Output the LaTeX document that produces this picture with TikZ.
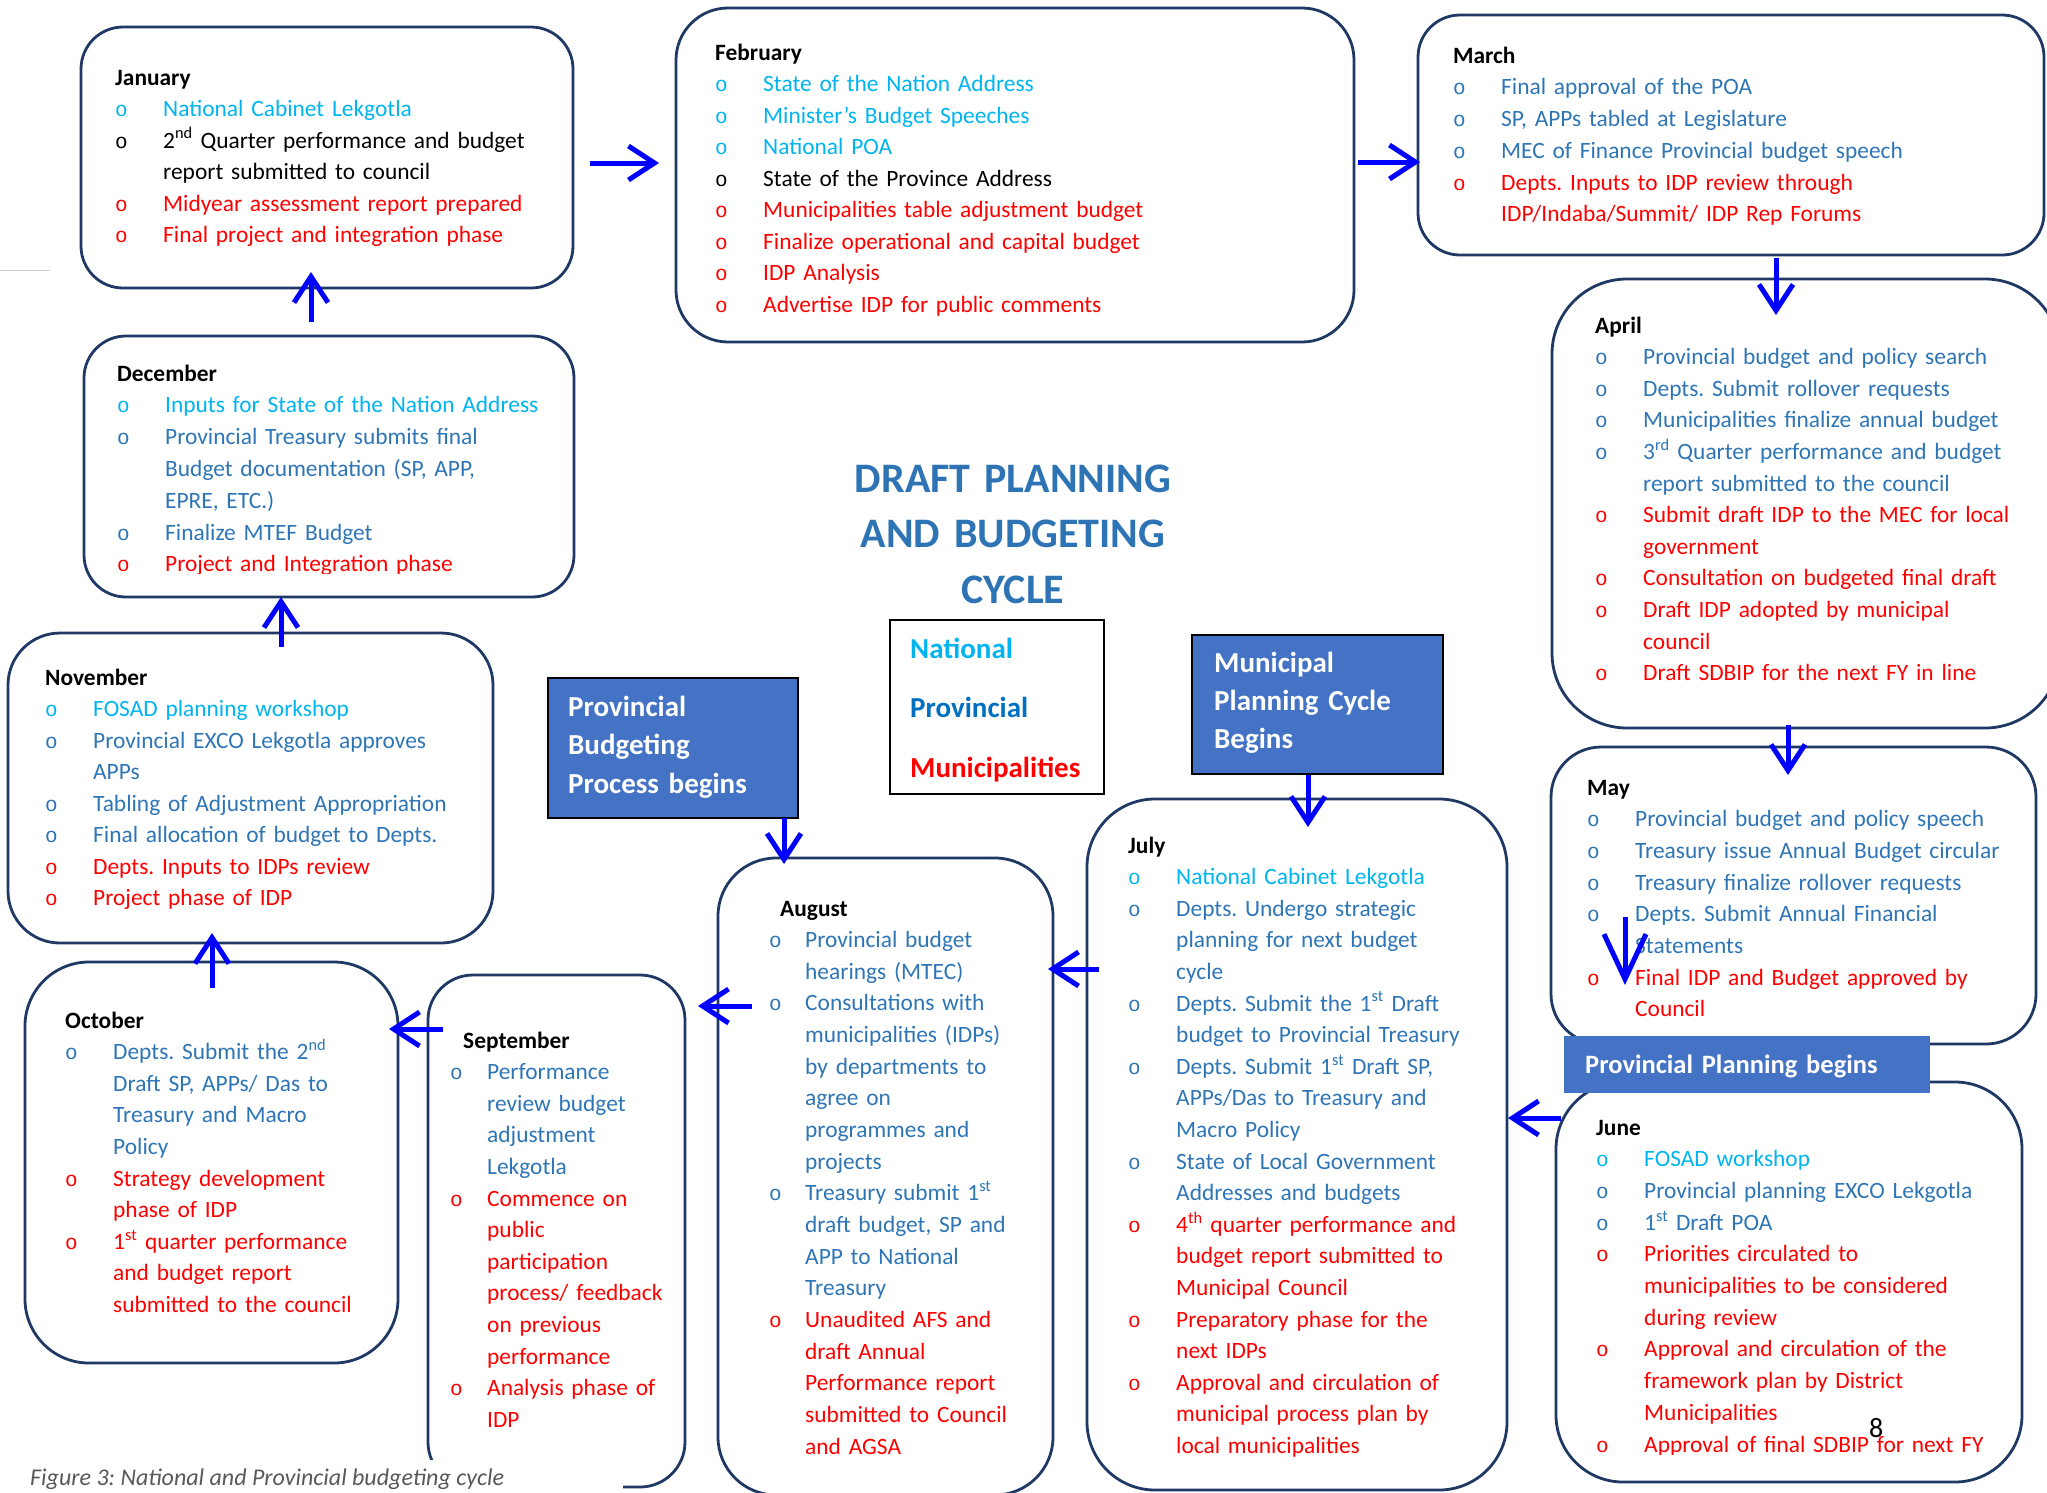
\documentclass[tikz,border=0pt]{standalone}
\usepackage{fontspec}
\setmainfont{Carlito}
\newfontfamily\bulfont{Liberation Mono}
\usetikzlibrary{arrows.meta, calc}

\definecolor{natcyan}{HTML}{00B4F0}
\definecolor{provblue}{HTML}{2E75B6}
\definecolor{munred}{HTML}{FF0000}
\definecolor{boxline}{HTML}{1F3864}
\definecolor{bannerfill}{HTML}{4472C4}
\definecolor{arrowblue}{HTML}{0000FF}
\definecolor{titleblue}{HTML}{2E74B5}
\definecolor{legprov}{HTML}{0070C0}
\definecolor{capgray}{HTML}{595959}

\frenchspacing
\newlength{\txtind}\setlength{\txtind}{48pt}
\newcommand{\itm}[2]{\par\noindent\hangindent=\txtind\hangafter=1\makebox[\txtind][l]{\textcolor{#1}{\bulfont\fontsize{21}{21}\selectfont o}}\textcolor{#1}{#2}}

\tikzset{
  mbox/.style={draw=boxline, line width=2.8pt, anchor=north west, inner sep=0pt, outer sep=0pt},
  mtext/.style={anchor=base west, inner sep=0pt, text width=520pt, align=left, font=\fontsize{23.4}{#1}\selectfont},
  mtext/.default=31.5,
  banner/.style={fill=bannerfill, draw=black, line width=2.5pt, anchor=north west, inner sep=0pt, outer sep=0pt},
  bantext/.style={anchor=base west, inner sep=0pt, text width=300pt, align=left, text=white, font=\fontsize{29}{#1}\selectfont\bfseries},
  bantext/.default=38.5,
  flow/.style={draw=arrowblue, line width=5pt, -{Straight Barb[length=26pt, width=34pt, line width=5pt]}}
}

\begin{document}
\begin{tikzpicture}[x=1pt, y=-1pt]
\path[use as bounding box, clip] (0,0) rectangle (2047,1492);
\draw[gray!40, line width=1pt] (0,270) -- (50,270);

\node[mbox, rounded corners=42pt, minimum width=492pt, minimum height=261pt] (jan) at (81,27) {};
\node[mbox, rounded corners=52pt, minimum width=678pt, minimum height=334pt] (feb) at (676,8) {};
\node[mbox, rounded corners=42pt, minimum width=626pt, minimum height=240pt] (mar) at (1418,15) {};
\node[mbox, rounded corners=75pt, minimum width=508pt, minimum height=449pt] (apr) at (1552,279) {};
\node[mbox, rounded corners=50pt, minimum width=485pt, minimum height=297pt] (may) at (1551,747) {};
\node[mbox, rounded corners=67pt, minimum width=466pt, minimum height=400pt] (jun) at (1556,1082) {};
\node[mbox, rounded corners=68pt, minimum width=420pt, minimum height=691pt] (jul) at (1087,799) {};
\node[mbox, rounded corners=58pt, minimum width=335pt, minimum height=637pt] (aug) at (718,858) {};
\node[mbox, rounded corners=45pt, minimum width=257pt, minimum height=512pt] (sep) at (428,975) {};
\node[mbox, rounded corners=64pt, minimum width=373pt, minimum height=401pt] (oct) at (25,962) {};
\node[mbox, rounded corners=52pt, minimum width=485pt, minimum height=310pt] (nov) at (8,633) {};
\node[mbox, rounded corners=42pt, minimum width=490pt, minimum height=261pt] (dec) at (84,336) {};

\node[banner, minimum width=250pt, minimum height=140pt] (pbp) at (548,678) {};
\node[banner, minimum width=251pt, minimum height=139pt] (mpc) at (1192,635) {};
\node[banner, draw=none, minimum width=366pt, minimum height=57pt] (ppb) at (1564,1036) {};
\node[bantext] (pbpt) at (568,716) {Provincial\\Budgeting\\Process begins};
\node[bantext=38] (mpct) at (1214,672) {Municipal\\Planning Cycle\\Begins};
\node[bantext, font=\fontsize{26.5}{30}\selectfont\bfseries] (ppbt) at (1585,1073) {Provincial Planning begins};

\node[draw=black, line width=2pt, anchor=north west, inner sep=0pt, minimum width=214pt, minimum height=174pt] (legend) at (889,619) {};
\node[anchor=base west, inner sep=0pt, text width=200pt, align=left, font=\fontsize{29}{59.5}\selectfont\bfseries] (legendt) at (910,658)
  {\textcolor{natcyan}{National}\\\textcolor{legprov}{Provincial}\\\textcolor{munred}{Municipalities}};
\node[anchor=base, inner sep=0pt, text width=600pt, align=center, text=titleblue, font=\fontsize{42}{55.5}\selectfont\bfseries] (title) at (1013,492)
  {DRAFT PLANNING\\AND BUDGETING\\CYCLE};

\node[mtext] (jant) at (115,85) {\textbf{January}
  \itm{natcyan}{National Cabinet Lekgotla}
  \itm{black}{2\textsuperscript{nd} Quarter performance and budget\newline report submitted to council}
  \itm{munred}{Midyear assessment report prepared}
  \itm{munred}{Final project and integration phase}\par};
\node[mtext=31.5] (febt) at (715,60) {\textbf{February}
  \itm{natcyan}{State of the Nation Address}
  \itm{natcyan}{Minister’s Budget Speeches}
  \itm{natcyan}{National POA}
  \itm{black}{State of the Province Address}
  \itm{munred}{Municipalities table adjustment budget}
  \itm{munred}{Finalize operational and capital budget}
  \itm{munred}{IDP Analysis}
  \itm{munred}{Advertise IDP for public comments}\par};
\node[mtext=31.75] (mart) at (1453,63) {\textbf{March}
  \itm{provblue}{Final approval of the POA}
  \itm{provblue}{SP, APPs tabled at Legislature}
  \itm{provblue}{MEC of Finance Provincial budget speech}
  \itm{munred}{Depts. Inputs to IDP review through\newline IDP/Indaba/Summit/ IDP Rep Forums}\par};
\node[mtext=31.6] (aprt) at (1595,333) {\textbf{April}
  \itm{provblue}{Provincial budget and policy search}
  \itm{provblue}{Depts. Submit rollover requests}
  \itm{provblue}{Municipalities finalize annual budget}
  \itm{provblue}{3\textsuperscript{rd} Quarter performance and budget\newline report submitted to the council}
  \itm{munred}{Submit draft IDP to the MEC for local\newline government}
  \itm{munred}{Consultation on budgeted final draft}
  \itm{munred}{Draft IDP adopted by municipal\newline council}
  \itm{munred}{Draft SDBIP for the next FY in line}\par};
\node[mtext=31.7] (mayt) at (1587,795) {\textbf{May}
  \itm{provblue}{Provincial budget and policy speech}
  \itm{provblue}{Treasury issue Annual Budget circular}
  \itm{provblue}{Treasury finalize rollover requests}
  \itm{provblue}{Depts. Submit Annual Financial\newline Statements}
  \itm{munred}{Final IDP and Budget approved by\newline Council}\par};
\begin{scope}
\clip (1500,1090) rectangle (2030,1454);
\node[mtext=31.7] (junt) at (1596,1135) {\textbf{June}
  \itm{natcyan}{FOSAD workshop}
  \itm{provblue}{Provincial planning EXCO Lekgotla}
  \itm{provblue}{1\textsuperscript{st} Draft POA}
  \itm{munred}{Priorities circulated to\newline municipalities to be considered\newline during review}
  \itm{munred}{Approval and circulation of the\newline framework plan by District\newline Municipalities}
  \itm{munred}{Approval of final SDBIP for next FY}\par};
\end{scope}
\node[mtext=31.6] (jult) at (1128,853) {\textbf{July}
  \itm{natcyan}{National Cabinet Lekgotla}
  \itm{provblue}{Depts. Undergo strategic\newline planning for next budget\newline cycle}
  \itm{provblue}{Depts. Submit the 1\textsuperscript{st} Draft\newline budget to Provincial Treasury}
  \itm{provblue}{Depts. Submit 1\textsuperscript{st} Draft SP,\newline APPs/Das to Treasury and\newline Macro Policy}
  \itm{provblue}{State of Local Government\newline Addresses and budgets}
  \itm{munred}{4\textsuperscript{th} quarter performance and\newline budget report submitted to\newline Municipal Council}
  \itm{munred}{Preparatory phase for the\newline next IDPs}
  \itm{munred}{Approval and circulation of\newline municipal process plan by\newline local municipalities}\par};
\node[mtext=31.65] (augt) at (769,916) {\setlength{\txtind}{36pt}\hspace*{11pt}\textbf{August}
  \itm{provblue}{Provincial budget\newline hearings (MTEC)}
  \itm{provblue}{Consultations with\newline municipalities (IDPs)\newline by departments to\newline agree on\newline programmes and\newline projects}
  \itm{provblue}{Treasury submit 1\textsuperscript{st}\newline draft budget, SP and\newline APP to National\newline Treasury}
  \itm{munred}{Unaudited AFS and\newline draft Annual\newline Performance report\newline submitted to Council\newline and AGSA}\par};
\node[mtext=31.6] (sept) at (450,1048) {\setlength{\txtind}{37pt}\hspace*{13pt}\textbf{September}
  \itm{provblue}{Performance\newline review budget\newline adjustment\newline Lekgotla}
  \itm{munred}{Commence on\newline public\newline participation\newline process/ feedback\newline on previous\newline performance}
  \itm{munred}{Analysis phase of\newline IDP}\par};
\node[mtext=31.6] (octt) at (65,1028) {\textbf{October}
  \itm{provblue}{Depts. Submit the 2\textsuperscript{nd}\newline Draft SP, APPs/ Das to\newline Treasury and Macro\newline Policy}
  \itm{munred}{Strategy development\newline phase of IDP}
  \itm{munred}{1\textsuperscript{st} quarter performance\newline and budget report\newline submitted to the council}\par};
\node[mtext=31.5] (novt) at (45,685) {\textbf{November}
  \itm{natcyan}{FOSAD planning workshop}
  \itm{provblue}{Provincial EXCO Lekgotla approves\newline APPs}
  \itm{provblue}{Tabling of Adjustment Appropriation}
  \itm{provblue}{Final allocation of budget to Depts.}
  \itm{munred}{Depts. Inputs to IDPs review}
  \itm{munred}{Project phase of IDP}\par};
\begin{scope}
\clip (90,340) rectangle (570,573);
\node[mtext=31.8] (dect) at (117,381) {\textbf{December}
  \itm{natcyan}{Inputs for State of the Nation Address}
  \itm{provblue}{Provincial Treasury submits final\newline Budget documentation (SP, APP,\newline EPRE, ETC.)}
  \itm{provblue}{Finalize MTEF Budget}
  \itm{munred}{Project and Integration phase}\par};
\end{scope}

\draw[flow] ($(jan.east)+(17,5.5)$) -- ($(jan.east -| feb.west)+(-17,5.5)$);
\draw[flow] ($(feb.east)+(4,-13)$) -- ($(feb.east -| mar.west)+(2,-13)$);
\draw[flow] ($(mar.south)+(45,3)$) -- ($(apr.north west)+(224,36)$);
\draw[flow] ($(apr.south)+(-18,-3)$) -- ($(may.north)+(-5.5,28)$);
\draw[flow, -{Straight Barb[length=45pt, width=42pt, line width=5pt]}] ($(may.north west)+(74,170)$) -- ($(may.north west)+(74,238)$);
\draw[flow] ($(jun.north west)+(5,36)$) -- ($(jul.east)+(1,-26.5)$);
\draw[flow] ($(mpc.south)+(-9.5,1)$) -- ($(jul.north)+(11,28)$);
\draw[flow] ($(jul.north west)+(12,170)$) -- ($(aug.north east)+(-5,111)$);
\draw[flow] ($(pbp.south)+(111,0)$) -- ($(aug.north west)+(66,6)$);
\draw[flow] ($(aug.north west)+(34,148)$) -- ($(sep.north east)+(13,31)$);
\draw[flow] ($(sep.north west)+(15,54)$) -- ($(oct.north east)+(-9,67)$);
\draw[flow] ($(oct.north west)+(187,26)$) -- ($(nov.south west)+(204,-10)$);
\draw[flow] ($(nov.north west)+(273,14)$) -- ($(dec.south west)+(197,0)$);
\draw[flow] ($(dec.north west)+(227,-14)$) -- ($(jan.south west)+(230,-16)$);

\fill[white] (0,1460) rectangle (623,1492);
\node[anchor=base west, inner sep=0pt, text=capgray, font=\fontsize{24}{24}\selectfont\itshape] (caption) at (30,1485) {Figure 3: National and Provincial budgeting cycle};
\node[anchor=base west, inner sep=0pt, font=\fontsize{28}{28}\selectfont] (pgnum) at (1869,1437) {8};
\end{tikzpicture}
\end{document}
